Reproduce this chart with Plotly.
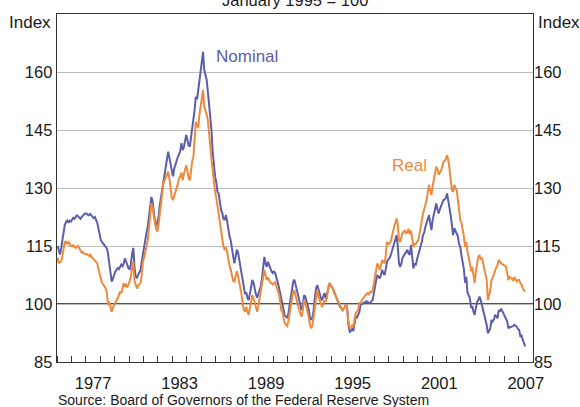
import plotly.graph_objects as go

# ---------------- data (monthly, January 1995 = 100) ----------------
years = list(range(1975, 2008))

nominal_by_year = {
    1975: [115.0, 113.5, 112.8, 114.5, 116.8, 119.0, 120.5, 121.2, 121.6, 121.0, 121.5, 121.3],
    1976: [121.8, 122.3, 122.0, 122.6, 122.9, 122.7, 122.2, 122.0, 122.5, 123.0, 123.2, 123.4],
    1977: [123.4, 123.1, 122.9, 123.3, 123.0, 122.6, 122.2, 122.5, 121.8, 121.0, 119.5, 118.0],
    1978: [116.5, 116.0, 115.5, 115.2, 114.8, 114.4, 113.0, 110.5, 108.0, 105.8, 106.5, 107.8],
    1979: [108.4, 108.8, 109.3, 109.0, 109.6, 110.2, 109.8, 110.5, 111.8, 111.0, 110.0, 109.2],
    1980: [109.0, 110.5, 113.0, 114.5, 109.5, 107.0, 106.8, 107.5, 108.0, 108.8, 111.0, 113.1],
    1981: [114.5, 116.5, 118.5, 120.0, 122.5, 125.0, 127.7, 126.5, 123.5, 121.5, 120.0, 121.5],
    1982: [122.5, 125.5, 127.7, 130.0, 131.2, 133.5, 136.4, 137.5, 139.4, 138.0, 136.5, 134.5],
    1983: [133.0, 135.0, 136.4, 137.0, 138.0, 139.0, 139.5, 141.6, 139.8, 140.5, 142.0, 143.7],
    1984: [142.5, 141.0, 140.7, 143.0, 144.5, 147.5, 150.2, 153.6, 153.0, 155.3, 157.5, 159.7],
    1985: [162.5, 165.2, 160.5, 159.5, 158.0, 155.0, 152.0, 148.0, 145.0, 139.5, 136.0, 133.0],
    1986: [131.5, 129.0, 128.6, 126.0, 124.3, 123.5, 122.0, 121.7, 123.0, 121.5, 119.0, 117.5],
    1987: [116.5, 114.0, 112.0, 110.5, 112.0, 114.0, 113.5, 111.5, 109.6, 108.5, 105.5, 103.6],
    1988: [102.5, 103.0, 101.5, 101.0, 103.0, 105.0, 106.2, 105.5, 103.5, 102.5, 101.6, 102.8],
    1989: [104.0, 104.5, 106.5, 109.5, 112.2, 110.5, 109.6, 110.9, 110.0, 109.0, 108.4, 108.0],
    1990: [108.4, 108.0, 107.0, 105.5, 104.5, 103.0, 101.0, 100.0, 98.5, 97.0, 96.7, 96.5],
    1991: [97.5, 99.5, 102.5, 104.5, 105.8, 106.3, 105.0, 103.6, 102.0, 101.0, 99.5, 98.4],
    1992: [99.5, 102.3, 102.0, 101.0, 100.0, 98.5, 96.5, 95.9, 96.5, 98.4, 101.5, 104.0],
    1993: [104.9, 104.0, 102.8, 101.5, 101.0, 102.0, 102.8, 101.5, 102.5, 103.6, 105.4, 105.0],
    1994: [104.5, 104.0, 103.2, 102.3, 101.5, 100.8, 100.0, 99.3, 98.8, 98.4, 98.8, 99.2],
    1995: [100.0, 98.5, 94.5, 92.8, 93.0, 93.5, 93.0, 95.0, 96.7, 96.5, 97.2, 97.8],
    1996: [99.8, 100.0, 100.2, 100.3, 100.5, 100.7, 100.5, 100.2, 100.3, 100.6, 101.0, 102.5],
    1997: [105.0, 106.2, 107.5, 107.0, 106.6, 107.5, 108.8, 108.0, 107.5, 109.0, 110.9, 111.5],
    1998: [111.8, 112.5, 113.5, 114.8, 115.5, 117.0, 117.8, 115.0, 110.5, 109.6, 110.5, 112.0],
    1999: [112.5, 113.1, 113.8, 114.0, 113.0, 112.7, 115.3, 112.0, 109.2, 110.5, 110.0, 111.5],
    2000: [112.6, 113.5, 114.8, 116.0, 117.8, 118.5, 120.0, 120.9, 122.0, 123.0, 121.0, 119.1],
    2001: [121.7, 123.4, 124.5, 126.0, 124.5, 123.4, 124.5, 125.5, 126.0, 126.9, 127.0, 127.5],
    2002: [128.6, 126.9, 125.5, 123.0, 120.5, 117.8, 119.6, 119.0, 118.5, 117.5, 115.5, 114.8],
    2003: [112.5, 110.5, 109.0, 105.5, 107.0, 103.0, 101.9, 101.5, 99.0, 99.5, 98.0, 97.2],
    2004: [99.0, 100.5, 101.0, 101.9, 101.0, 99.7, 98.8, 97.6, 96.5, 94.5, 92.4, 93.0],
    2005: [93.7, 95.9, 95.5, 96.0, 97.2, 96.8, 96.3, 98.4, 98.0, 98.8, 98.2, 97.6],
    2006: [97.0, 96.4, 95.5, 93.7, 94.1, 94.0, 94.1, 94.3, 94.6, 94.3, 94.1, 93.5],
    2007: [93.3, 91.5, 91.8, 90.7, 90.0, 89.0],
}

real_by_year = {
    1975: [112.0, 110.5, 110.8, 111.0, 112.5, 114.5, 116.0, 116.1, 115.5, 116.0, 115.3, 115.0],
    1976: [114.9, 115.2, 114.8, 114.5, 114.8, 115.0, 114.5, 114.0, 113.3, 113.5, 113.0, 112.9],
    1977: [112.9, 112.7, 112.5, 112.8, 112.2, 111.9, 111.6, 111.2, 111.0, 110.5, 109.0, 107.8],
    1978: [107.1, 105.4, 105.0, 104.6, 104.0, 103.0, 99.7, 100.5, 99.0, 98.0, 99.0, 99.8],
    1979: [100.2, 101.0, 101.5, 102.5, 103.2, 102.8, 104.0, 105.4, 104.5, 105.0, 104.5, 105.0],
    1980: [106.0, 107.1, 109.5, 110.9, 106.0, 104.6, 104.0, 104.8, 105.0, 105.4, 107.5, 111.0],
    1981: [112.0, 113.5, 115.0, 116.5, 119.5, 123.0, 126.0, 125.0, 122.6, 121.0, 119.5, 118.7],
    1982: [120.5, 123.5, 126.0, 128.5, 131.2, 132.0, 132.9, 133.5, 134.2, 132.5, 129.5, 127.5],
    1983: [126.9, 128.0, 129.0, 129.5, 131.0, 132.5, 133.0, 134.0, 132.0, 133.5, 134.5, 135.9],
    1984: [134.5, 132.5, 132.0, 135.0, 137.0, 138.1, 142.5, 147.1, 146.0, 145.8, 149.0, 151.5],
    1985: [153.5, 155.3, 151.0, 150.2, 149.0, 147.5, 145.0, 141.0, 137.5, 134.0, 131.0, 129.0],
    1986: [127.5, 125.5, 123.0, 120.5, 119.1, 117.0, 114.8, 114.0, 114.7, 113.5, 111.5, 110.0],
    1987: [109.0, 107.0, 106.0, 105.7, 107.0, 108.5, 107.5, 106.0, 104.9, 102.5, 100.0, 98.4],
    1988: [98.0, 99.3, 98.0, 97.2, 99.0, 101.0, 102.3, 101.5, 100.2, 99.0, 98.0, 99.5],
    1989: [101.5, 102.8, 104.5, 106.5, 108.8, 107.5, 106.2, 106.9, 106.0, 105.5, 105.4, 105.0],
    1990: [105.4, 105.6, 104.5, 103.5, 102.8, 101.0, 98.4, 98.0, 96.5, 95.0, 94.6, 94.3],
    1991: [95.5, 97.5, 100.0, 102.0, 103.2, 103.5, 102.0, 101.0, 99.5, 98.5, 97.5, 96.7],
    1992: [98.5, 101.0, 100.5, 99.2, 98.0, 96.5, 94.5, 93.7, 94.5, 97.0, 99.5, 101.5],
    1993: [103.6, 102.0, 101.0, 100.0, 99.2, 100.0, 101.0, 100.5, 101.5, 103.5, 105.4, 105.0],
    1994: [104.5, 104.0, 103.0, 102.3, 101.5, 100.8, 100.0, 99.5, 98.9, 98.5, 98.8, 99.2],
    1995: [100.0, 98.5, 95.0, 93.7, 94.0, 94.5, 94.0, 96.0, 97.6, 98.0, 98.4, 100.2],
    1996: [100.2, 101.0, 101.5, 101.9, 102.2, 102.5, 102.8, 102.5, 103.2, 103.0, 103.5, 105.0],
    1997: [107.5, 108.8, 110.5, 109.5, 108.8, 110.0, 111.4, 110.8, 110.5, 112.5, 116.1, 115.5],
    1998: [115.5, 116.0, 117.5, 119.1, 120.0, 121.0, 122.1, 120.5, 116.5, 116.0, 117.5, 118.5],
    1999: [118.5, 119.1, 118.3, 118.5, 119.5, 118.0, 119.0, 116.5, 114.8, 115.5, 115.5, 116.0],
    2000: [116.5, 118.0, 120.0, 121.5, 123.4, 124.5, 125.5, 126.9, 129.0, 130.8, 129.5, 128.2],
    2001: [130.4, 132.1, 133.5, 135.5, 135.0, 133.4, 134.0, 134.5, 135.5, 136.8, 137.0, 137.5],
    2002: [138.5, 137.3, 135.0, 132.0, 129.5, 129.0, 130.8, 130.0, 129.5, 127.0, 124.5, 121.7],
    2003: [121.0, 119.5, 117.5, 114.8, 116.0, 113.5, 112.2, 110.5, 108.5, 109.6, 107.5, 105.4],
    2004: [108.5, 110.5, 112.2, 112.7, 111.5, 112.0, 110.5, 109.5, 108.0, 106.2, 101.0, 102.5],
    2005: [103.6, 106.2, 106.8, 107.5, 108.8, 109.5, 110.1, 111.4, 110.8, 110.5, 110.3, 110.1],
    2006: [110.0, 109.7, 108.0, 106.2, 107.0, 106.8, 106.6, 106.0, 107.0, 106.3, 105.8, 106.2],
    2007: [106.2, 105.4, 105.0, 104.0, 103.6, 103.2],
}

x_tick_years = [1977, 1983, 1989, 1995, 2001, 2007]
y_ticks = [85, 100, 115, 130, 145, 160]

# --------------- build monthly series (decimal-year positions, mid-month) ---------------
def flatten(d):
    xs, ys = [], []
    for yr in years:
        for m, v in enumerate(d[yr]):
            xs.append(yr + (m + 0.5) / 12.0)
            ys.append(v)
    return xs, ys

xn, yn = flatten(nominal_by_year)
xr, yr_ = flatten(real_by_year)

BLUE = "#5b5fa9"
ORANGE = "#ef8a3c"
FONT = "Liberation Sans, Arial, Helvetica, sans-serif"

fig = go.Figure()
fig.add_trace(go.Scatter(x=xr, y=yr_, mode="lines", name="Real",
                         line=dict(color=ORANGE, width=2), yaxis="y2",
                         hoverinfo="skip"))
fig.add_trace(go.Scatter(x=xn, y=yn, mode="lines", name="Nominal",
                         line=dict(color=BLUE, width=2),
                         hoverinfo="skip"))

fig.update_layout(
    width=580, height=407,
    margin=dict(l=57, r=47, t=14, b=45, pad=0),
    paper_bgcolor="white", plot_bgcolor="white",
    showlegend=False,
    font=dict(family=FONT, size=16.5, color="#1a1a1a"),
    xaxis=dict(
        range=[1975, 2008], fixedrange=True,
        tickmode="array",
        tickvals=[y + 0.5 for y in x_tick_years],
        ticktext=[str(y) for y in x_tick_years],
        ticks="outside", ticklen=0, ticklabelstandoff=6,
        showgrid=False, zeroline=False,
        showline=True, linecolor="#333333", linewidth=1.3, mirror=True,
        minor=dict(ticks="inside", tick0=1975, dtick=1, ticklen=6,
                   tickcolor="#333333", tickwidth=1, showgrid=False),
    ),
    yaxis=dict(
        range=[85, 175], fixedrange=True,
        tickmode="array", tickvals=y_ticks,
        ticks="", showgrid=True, gridcolor="#bdbdbd", gridwidth=1,
        zeroline=False,
        showline=True, linecolor="#333333", linewidth=1.3, mirror=True,
    ),
    yaxis2=dict(
        range=[85, 175], fixedrange=True, overlaying="y", side="right",
        tickmode="array", tickvals=y_ticks,
        ticks="", showgrid=False, zeroline=False, showline=False,
    ),
)

# black reference line at 100
fig.add_shape(type="line", xref="paper", yref="y", x0=0, x1=1, y0=100, y1=100,
              line=dict(color="#1a1a1a", width=1.3), layer="below")

ann = [
    dict(text="January 1995 = 100", x=0.5, y=1, xref="paper", yref="paper",
         xanchor="center", yanchor="bottom", yshift=3, showarrow=False,
         font=dict(size=16.5)),
    dict(text="Index", x=0, y=1, xref="paper", yref="paper", xanchor="right",
         yanchor="middle", xshift=-4, yshift=-8, showarrow=False, font=dict(size=17)),
    dict(text="Index", x=1, y=1, xref="paper", yref="paper", xanchor="left",
         yanchor="middle", xshift=3, yshift=-8, showarrow=False, font=dict(size=17)),
    dict(text="Nominal", x=1988.2, y=164, xref="x", yref="y", xanchor="center",
         yanchor="middle", showarrow=False, font=dict(size=17, color=BLUE)),
    dict(text="Real", x=1999.45, y=135.7, xref="x", yref="y", xanchor="center",
         yanchor="middle", showarrow=False, font=dict(size=17, color=ORANGE)),
    dict(text="Source: Board of Governors of the Federal Reserve System", x=0, y=0,
         xref="paper", yref="paper", xanchor="left", yanchor="middle",
         xshift=-1, yshift=-37.5, showarrow=False, font=dict(size=14)),
]
fig.update_layout(annotations=ann)

fig.write_html("out.html",
               config={"displayModeBar": False, "staticPlot": True},
               post_script="document.body.style.margin='0px';document.body.style.overflow='hidden';")
